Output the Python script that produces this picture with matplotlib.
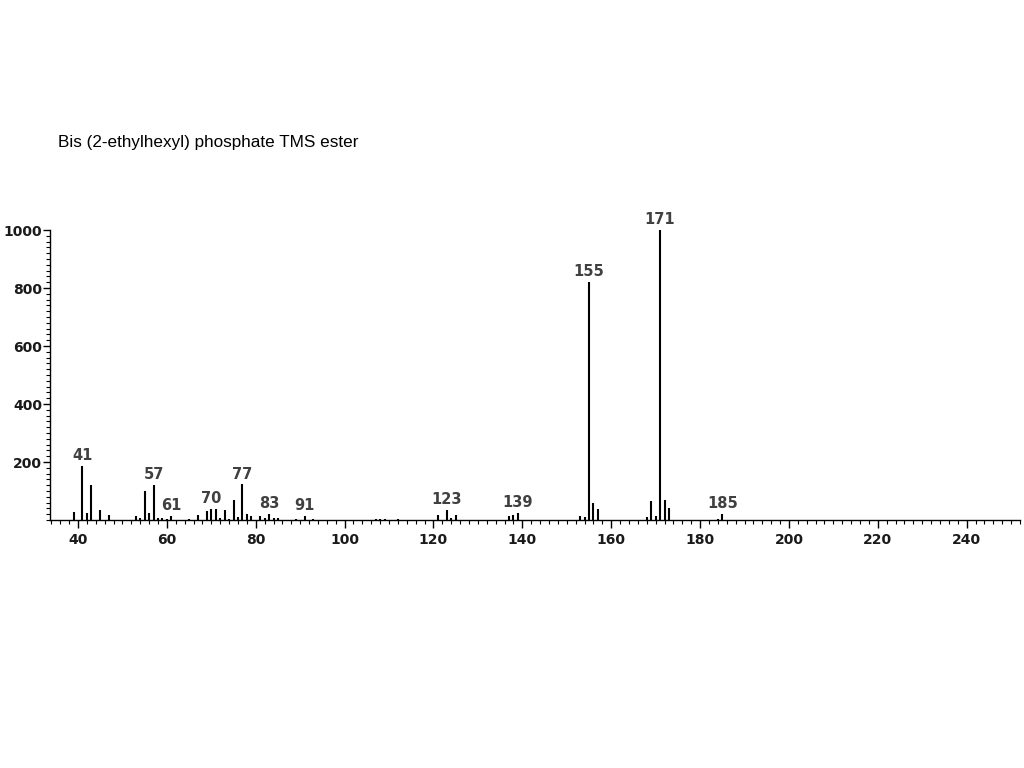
import matplotlib
matplotlib.use("Agg")
import matplotlib.pyplot as plt
from matplotlib.ticker import MultipleLocator

title = "Bis (2-ethylhexyl) phosphate TMS ester"

mz = [39, 41, 42, 43, 45, 47, 53, 54, 55, 56, 57, 58, 59, 60, 61, 65, 67,
      69, 70, 71, 72, 73, 74, 75, 76, 77, 78, 79, 81, 82, 83, 84, 85, 89, 91, 93,
      107, 108, 109, 112, 121, 123, 124, 125, 137, 138, 139, 153, 154, 155, 156, 157,
      168, 169, 170, 171, 172, 173, 184, 185]
intensity = [29, 186, 23, 122, 33, 16, 14, 6, 100, 25, 122, 6, 6, 3, 14, 3, 16,
             31, 38, 38, 6, 33, 3, 68, 11, 123, 20, 15, 15, 6, 20, 6, 6, 4, 15, 3,
             5, 3, 3, 5, 17, 34, 8, 17, 15, 17, 25, 15, 11, 820, 60, 38,
             11, 65, 15, 1000, 70, 40, 3, 22]
labelled = [41, 57, 61, 70, 77, 83, 91, 123, 139, 155, 171, 185]

fig = plt.figure(figsize=(10.24, 7.68), dpi=100)
ax = fig.add_axes([50/1024, 1-520/768, 970/1024, 290/768])

ax.vlines(mz, 0, intensity, colors="black", linewidth=1.5)

lookup = dict(zip(mz, intensity))
for m in labelled:
    ax.annotate(str(m), (m, lookup[m]), xytext=(0, 2), textcoords="offset points",
                ha="center", va="bottom", fontsize=10.5, fontweight="bold",
                color="#404040", family="DejaVu Sans", annotation_clip=False)

ax.set_xlim(33.7, 252)
ax.set_ylim(0, 1000)
ax.xaxis.set_major_locator(MultipleLocator(20))
ax.xaxis.set_minor_locator(MultipleLocator(2))
ax.yaxis.set_major_locator(MultipleLocator(200))
ax.yaxis.set_minor_locator(MultipleLocator(20))
ax.set_yticks([200, 400, 600, 800, 1000])

for s in ["top", "right"]:
    ax.spines[s].set_visible(False)
for s in ["left", "bottom"]:
    ax.spines[s].set_linewidth(1.0)

ax.tick_params(which="major", length=6, width=1, direction="out", labelsize=10, pad=3)
ax.tick_params(which="minor", length=3, width=0.8, direction="out")
for lab in ax.get_xticklabels() + ax.get_yticklabels():
    lab.set_fontweight("bold")
    lab.set_color("#1a1a1a")
ax.tick_params(axis="y", which="major", length=5, pad=0.5)

fig.text(58/1024, 1-143/768, title, fontsize=12.3, family="Liberation Sans",
         ha="left", va="center", color="black")

fig.savefig("out.png", dpi=100)
